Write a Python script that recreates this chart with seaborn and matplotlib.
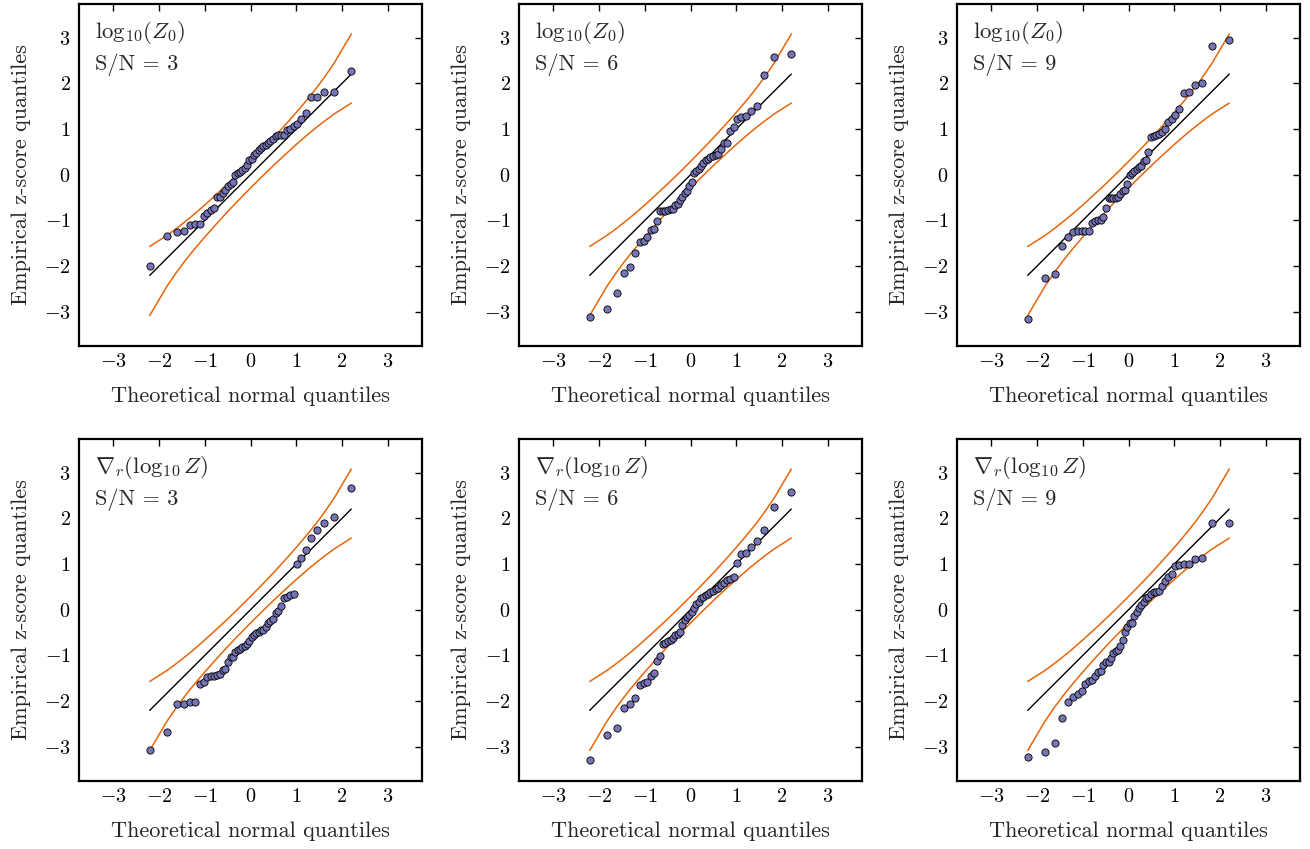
import numpy as np
import pandas as pd
import matplotlib
matplotlib.use("Agg")
import matplotlib.pyplot as plt
import seaborn as sns

# Theoretical normal quantiles (n = 50 order statistics)
theo_half = [-2.204, -1.832, -1.614, -1.453, -1.323, -1.211, -1.114, -1.026, -0.945, -0.870,
             -0.799, -0.733, -0.669, -0.608, -0.549, -0.492, -0.437, -0.383, -0.330, -0.277,
             -0.226, -0.175, -0.125, -0.075, -0.025]
theo_q = theo_half + [-v for v in theo_half[::-1]]

# Empirical z-score quantiles, one list per panel
z0_sn3 = [-2.00, -1.34, -1.26, -1.23, -1.09, -1.08, -1.08, -0.91, -0.83, -0.77,
          -0.72, -0.48, -0.48, -0.41, -0.34, -0.25, -0.20, -0.15, 0.00, 0.03,
          0.07, 0.10, 0.15, 0.22, 0.32, 0.34, 0.43, 0.48, 0.54, 0.58,
          0.63, 0.66, 0.70, 0.73, 0.78, 0.84, 0.87, 0.88, 0.88, 0.98,
          1.00, 1.07, 1.12, 1.23, 1.36, 1.70, 1.70, 1.82, 1.82, 2.27]
z0_sn6 = [-3.12, -2.93, -2.60, -2.15, -2.03, -1.71, -1.47, -1.45, -1.37, -1.20,
          -1.18, -1.01, -0.80, -0.80, -0.79, -0.77, -0.76, -0.74, -0.67, -0.63,
          -0.55, -0.48, -0.41, -0.35, -0.25, -0.15, 0.04, 0.09, 0.13, 0.19,
          0.26, 0.32, 0.35, 0.39, 0.42, 0.44, 0.45, 0.57, 0.69, 0.70,
          0.96, 1.04, 1.21, 1.27, 1.28, 1.39, 1.50, 2.18, 2.57, 2.64]
z0_sn9 = [-3.16, -2.25, -2.18, -1.56, -1.36, -1.26, -1.24, -1.24, -1.24, -1.23,
          -1.05, -1.01, -0.98, -0.98, -0.92, -0.72, -0.51, -0.51, -0.51, -0.50,
          -0.48, -0.42, -0.36, -0.34, -0.20, 0.00, 0.04, 0.09, 0.13, 0.16,
          0.19, 0.31, 0.32, 0.50, 0.83, 0.85, 0.86, 0.89, 0.93, 1.01,
          1.15, 1.21, 1.31, 1.45, 1.78, 1.82, 1.97, 2.02, 2.82, 2.95]
grad_sn3 = [-3.08, -2.67, -2.07, -2.07, -2.03, -2.01, -1.62, -1.59, -1.47, -1.46,
            -1.45, -1.43, -1.40, -1.31, -1.29, -1.15, -1.04, -1.04, -0.93, -0.88,
            -0.85, -0.82, -0.79, -0.74, -0.69, -0.60, -0.55, -0.52, -0.48, -0.45,
            -0.44, -0.37, -0.28, -0.24, -0.20, -0.08, -0.02, 0.08, 0.25, 0.27,
            0.32, 0.35, 1.00, 1.14, 1.31, 1.57, 1.75, 1.91, 2.03, 2.66]
grad_sn6 = [-3.28, -2.74, -2.60, -2.15, -2.06, -1.94, -1.64, -1.60, -1.58, -1.46,
            -1.38, -1.12, -1.01, -0.75, -0.72, -0.69, -0.66, -0.61, -0.55, -0.53,
            -0.48, -0.34, -0.22, -0.16, -0.12, -0.04, 0.04, 0.12, 0.18, 0.25,
            0.29, 0.32, 0.35, 0.39, 0.42, 0.45, 0.48, 0.55, 0.58, 0.66,
            0.67, 0.72, 1.02, 1.21, 1.24, 1.37, 1.50, 1.74, 2.26, 2.58]
grad_sn9 = [-3.23, -3.11, -2.92, -2.36, -2.01, -1.91, -1.84, -1.79, -1.62, -1.55,
            -1.54, -1.46, -1.37, -1.34, -1.21, -1.15, -1.14, -1.05, -0.95, -0.91,
            -0.88, -0.79, -0.66, -0.48, -0.37, -0.28, -0.28, -0.13, -0.05, 0.03,
            0.10, 0.16, 0.26, 0.29, 0.35, 0.39, 0.39, 0.41, 0.53, 0.63,
            0.71, 0.79, 0.96, 0.98, 1.00, 1.01, 1.12, 1.13, 1.89, 1.91]

# Confidence envelope (same for every panel)
env_x = [-2.204, -1.832, -1.614, -1.453, -1.323, -1.211, -1.026, -0.870, -0.669,
         -0.549, -0.383, -0.226, -0.025,
         0.025, 0.226, 0.383, 0.549, 0.669, 0.870, 1.026, 1.211, 1.323, 1.453,
         1.614, 1.832, 2.204]
env_lo = [-3.083, -2.450, -2.130, -1.913, -1.748, -1.612, -1.393, -1.216, -0.992,
          -0.861, -0.684, -0.521, -0.315,
          -0.265, -0.065, 0.088, 0.247, 0.359, 0.544, 0.685, 0.846, 0.941, 1.045,
          1.172, 1.333, 1.570]
env_hi = [-1.570, -1.333, -1.172, -1.045, -0.941, -0.846, -0.685, -0.544, -0.359,
          -0.247, -0.088, 0.065, 0.265,
          0.315, 0.521, 0.684, 0.861, 0.992, 1.216, 1.393, 1.612, 1.748, 1.913,
          2.130, 2.450, 3.083]

panel_titles = [r"$\mathrm{log}_{10}(Z_0)$"] * 3 + [r"$\nabla_r(\mathrm{log}_{10}\,Z)$"] * 3
panel_sn = [3, 6, 9, 3, 6, 9]
panel_data = [z0_sn3, z0_sn6, z0_sn9, grad_sn3, grad_sn6, grad_sn9]
tick_vals = [-3, -2, -1, 0, 1, 2, 3]

sns.set_theme(style="white")
plt.rcParams.update({
    "font.family": ["cmr10", "DejaVu Serif"],
    "mathtext.fontset": "cm",
    "axes.formatter.use_mathtext": True,
    "axes.unicode_minus": True,
    "axes.edgecolor": "black",
    "axes.linewidth": 1.6,
    "xtick.direction": "in",
    "ytick.direction": "in",
    "xtick.top": True,
    "ytick.right": True,
    "xtick.major.size": 5,
    "ytick.major.size": 5,
    "xtick.major.width": 1.0,
    "ytick.major.width": 1.0,
    "xtick.major.pad": 5,
    "ytick.major.pad": 6,
    "xtick.color": "black",
    "ytick.color": "black",
    "xtick.labelsize": 14.5,
    "ytick.labelsize": 14.5,
})

W, H = 1310, 849
fig = plt.figure(figsize=(W / 100, H / 100), dpi=100)
lefts = [79, 519, 957]
bottoms = [346, 781]
aw, ah = 343, 342.5

dot_color = "#7474b6"
env_color = "#e8650a"

for k in range(6):
    r, c = divmod(k, 3)
    ax = fig.add_axes([lefts[c] / W, 1 - bottoms[r] / H, aw / W, ah / H])
    df = pd.DataFrame({"theo": theo_q, "emp": panel_data[k]})
    ax.plot(env_x, env_lo, color=env_color, lw=1.1, zorder=2)
    ax.plot(env_x, env_hi, color=env_color, lw=1.1, zorder=2)
    ax.plot([theo_q[0], theo_q[-1]], [theo_q[0], theo_q[-1]], color="black", lw=1.0, zorder=2)
    sns.scatterplot(data=df, x="theo", y="emp", ax=ax, color=dot_color,
                    edgecolor="black", linewidth=0.6, s=27, zorder=3, legend=False)
    ax.set_xlim(-3.75, 3.75)
    ax.set_ylim(-3.75, 3.75)
    ax.set_xticks(tick_vals)
    ax.set_yticks(tick_vals)
    ax.set_xlabel("Theoretical normal quantiles", fontsize=16, labelpad=11)
    ax.set_ylabel("Empirical z-score quantiles", fontsize=16, labelpad=9)
    ax.text(0.047, 0.915, panel_titles[k], transform=ax.transAxes, fontsize=16.5,
            ha="left", va="center")
    ax.text(0.047, 0.82, "S/N = %d" % panel_sn[k], transform=ax.transAxes,
            fontsize=16, ha="left", va="center")
    for s in ax.spines.values():
        s.set_visible(True)
        s.set_color("black")

fig.savefig("out.png", dpi=100)
